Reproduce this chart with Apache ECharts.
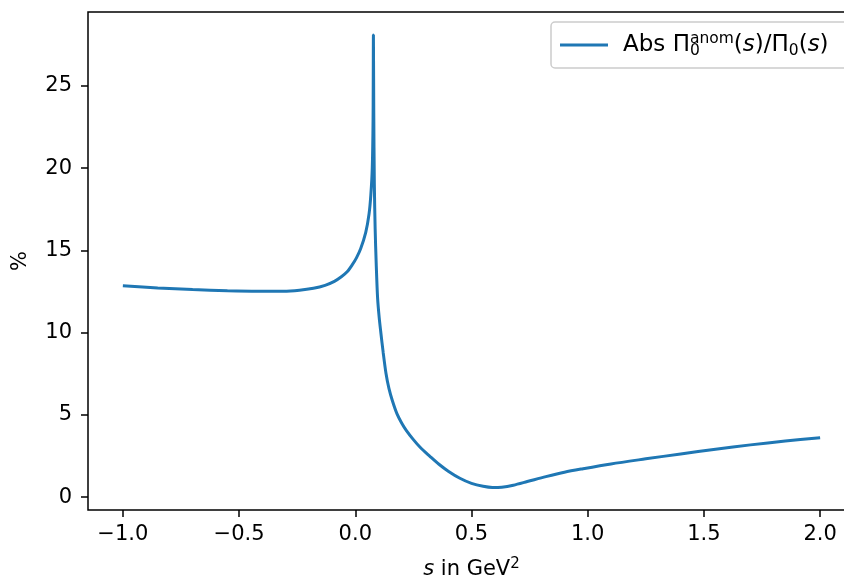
<!DOCTYPE html>
<html>
<head>
<meta charset="utf-8">
<script src="https://cdn.jsdelivr.net/npm/echarts@6/dist/echarts.min.js"></script>
<style>
html,body{margin:0;padding:0;background:#fff;}
#chart{width:844px;height:578px;}
</style>
</head>
<body>
<div id="chart"></div>
<script>
// s values in GeV^2
const sValues = [-1.0, -0.85, -0.7, -0.55, -0.42, -0.31, -0.24, -0.18, -0.13, -0.09, -0.06, -0.035, -0.012, 0.005, 0.023, 0.045, 0.059, 0.067, 0.073, 0.0765, 0.078, 0.0795, 0.082, 0.0855, 0.090, 0.096, 0.103, 0.110, 0.120, 0.132, 0.145, 0.160, 0.180, 0.200, 0.220, 0.250, 0.280, 0.320, 0.360, 0.400, 0.450, 0.500, 0.550, 0.590, 0.630, 0.680, 0.740, 0.820, 0.900, 0.980, 1.10, 1.25, 1.40, 1.55, 1.70, 1.85, 2.0];
// Abs Pi_0^anom(s)/Pi_0(s) in %
const ratioValues = [12.85, 12.72, 12.62, 12.55, 12.52, 12.52, 12.58, 12.7, 12.88, 13.12, 13.4, 13.7, 14.15, 14.55, 15.1, 16.1, 17.2, 18.4, 20.0, 23.0, 28.1, 23.5, 19.0, 16.3, 14.2, 12.1, 10.9, 10.0, 8.8, 7.54, 6.6, 5.85, 5.05, 4.5, 4.05, 3.5, 3.02, 2.5, 2.0, 1.58, 1.15, 0.84, 0.66, 0.59, 0.61, 0.73, 0.95, 1.25, 1.52, 1.73, 2.02, 2.33, 2.63, 2.92, 3.18, 3.41, 3.62];
const xTicks = [-1.0, -0.5, 0.0, 0.5, 1.0, 1.5, 2.0];
const yTicks = [0, 5, 10, 15, 20, 25];

const FONT = 'DejaVu Sans';
const chart = echarts.init(document.getElementById('chart'), null, {renderer: 'canvas'});
const data = sValues.map((s, i) => [s, ratioValues[i]]);
const fmtX = v => { const t = v.toFixed(1); return t.startsWith('-') ? '\u2212' + t.slice(1) : t; };

chart.setOption({
  animation: false,
  backgroundColor: '#fff',
  grid: {left: 88, top: 12, width: 767, height: 498, outerBoundsMode: 'none', containLabel: false,
         show: true, borderColor: '#000', borderWidth: 1.5, backgroundColor: 'transparent'},
  xAxis: {
    type: 'value', min: -1.15, max: 2.15,
    axisLine: {show: false, onZero: false},
    splitLine: {show: false},
    axisTick: {show: true, length: 7, lineStyle: {color: '#000', width: 1.5}, customValues: xTicks},
    axisLabel: {color: '#000', fontFamily: FONT, fontSize: 21, margin: 14, customValues: xTicks, formatter: fmtX},
    name: '{it|s} in GeV{sup|2}',
    nameLocation: 'middle', nameGap: 47,
    nameTextStyle: {color: '#000', fontFamily: FONT, fontSize: 21,
      rich: {it: {fontStyle: 'italic', fontFamily: FONT, fontSize: 21, color: '#000'},
             sup: {fontSize: 15, fontFamily: FONT, color: '#000', padding: [0, 0, 11, 0]}}}
  },
  yAxis: {
    type: 'value', min: -0.78, max: 29.5,
    axisLine: {show: false, onZero: false},
    splitLine: {show: false},
    axisTick: {show: true, length: 7, lineStyle: {color: '#000', width: 1.5}, customValues: yTicks},
    axisLabel: {color: '#000', fontFamily: FONT, fontSize: 21, margin: 16, customValues: yTicks},
    name: '%', nameLocation: 'middle', nameGap: 57, nameRotate: 90,
    nameTextStyle: {color: '#000', fontFamily: FONT, fontSize: 21}
  },
  legend: {
    show: true, left: 551, top: 22,
    padding: [9, 60, 9, 9],
    borderColor: '#ccc', borderWidth: 1.5, borderRadius: 4,
    backgroundColor: 'rgba(255,255,255,0.8)',
    itemWidth: 48, itemHeight: 3,
    data: [{name: 'ratio', icon: 'rect', itemStyle: {color: '#1f77b4'}}],
    formatter: () => 'Abs \u03a0{sub0|0}{sup|anom}({it|s})/\u03a0{sub|0}({it|s})',
    textStyle: {color: '#000', fontFamily: FONT, fontSize: 23, padding: [0, 0, 0, 10],
      rich: {
        it: {fontStyle: 'italic', fontFamily: FONT, fontSize: 23, color: '#000'},
        sup: {fontFamily: FONT, fontSize: 15.5, color: '#000', padding: [0, 0, 12, 0]},
        sub0: {fontFamily: FONT, fontSize: 15.5, color: '#000', width: 0, padding: [12, 0, 0, 0]},
        sub: {fontFamily: FONT, fontSize: 15.5, color: '#000', padding: [12, 0, 0, 0]}
      }}
  },
  series: [{
    name: 'ratio', type: 'line', data: data,
    symbol: 'none', smooth: 0.3,
    lineStyle: {color: '#1f77b4', width: 3},
    itemStyle: {color: '#1f77b4'}
  }]
});
</script>
</body>
</html>
